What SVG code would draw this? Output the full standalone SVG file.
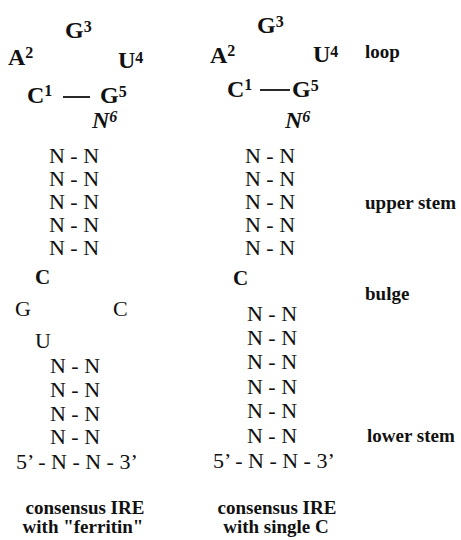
<svg xmlns="http://www.w3.org/2000/svg" width="461" height="540" viewBox="0 0 461 540">
<style>
text{font-family:"Liberation Serif","Times New Roman",serif;fill:#111}
.lb{font-size:24px;font-weight:bold}
.sup{font-size:16px}
.it{font-size:24px;font-style:italic;font-weight:bold}
.nn{font-size:22px;text-anchor:middle}
.nt{font-size:22px}
.bc{font-size:21px;font-weight:bold}
.cap{font-size:19px;font-weight:bold;text-anchor:middle}
.lab{font-size:19px;font-weight:bold}
.bond{stroke:#111;stroke-width:1.8}
</style>
<rect width="461" height="540" fill="#fff"/>
<g id="connectors">
<line class="bond" x1="63" y1="97" x2="90" y2="97"/>
<line class="bond" x1="260" y1="90" x2="290" y2="90"/>
</g>
<g id="ferritin-ire">
<g id="f-loop">
<text class="lb" x="65" y="38">G<tspan class="sup" dy="-6">3</tspan></text>
<text class="lb" x="8" y="65">A<tspan class="sup" dy="-7">2</tspan></text>
<text class="lb" x="118" y="68">U<tspan class="sup" dy="-5">4</tspan></text>
<text class="lb" x="27" y="103">C<tspan class="sup" dy="-7">1</tspan></text>
<text class="lb" x="100" y="103">G<tspan class="sup" dy="-6">5</tspan></text>
<text class="it" x="92" y="128">N<tspan class="sup" dy="-6">6</tspan></text>
</g>
<g id="f-upper-stem">
<text class="nn" x="74" y="163">N - N</text>
<text class="nn" x="74" y="186">N - N</text>
<text class="nn" x="74" y="209">N - N</text>
<text class="nn" x="74" y="232">N - N</text>
<text class="nn" x="74" y="255">N - N</text>
</g>
<g id="f-bulge">
<text class="bc" x="35" y="284">C</text>
<text class="nt" x="15" y="316">G</text>
<text class="nt" x="113" y="316">C</text>
<text class="nt" x="35" y="348">U</text>
</g>
<g id="f-lower-stem">
<text class="nn" x="75" y="373">N - N</text>
<text class="nn" x="75" y="397">N - N</text>
<text class="nn" x="75" y="421">N - N</text>
<text class="nn" x="75" y="444">N - N</text>
<text class="nt" x="16" y="469">5’ - N - N - 3’</text>
</g>
<g id="f-caption">
<text class="cap" x="85" y="514">consensus IRE</text>
<text class="cap" x="83" y="533">with "ferritin"</text>
</g>
</g>
<g id="single-c-ire">
<g id="s-loop">
<text class="lb" x="257" y="33">G<tspan class="sup" dy="-6">3</tspan></text>
<text class="lb" x="210" y="63">A<tspan class="sup" dy="-7">2</tspan></text>
<text class="lb" x="313" y="62">U<tspan class="sup" dy="-5">4</tspan></text>
<text class="lb" x="227" y="97">C<tspan class="sup" dy="-7">1</tspan></text>
<text class="lb" x="292" y="97">G<tspan class="sup" dy="-6">5</tspan></text>
<text class="it" x="285" y="128">N<tspan class="sup" dy="-6">6</tspan></text>
</g>
<g id="s-upper-stem">
<text class="nn" x="270" y="163">N - N</text>
<text class="nn" x="270" y="186">N - N</text>
<text class="nn" x="270" y="209">N - N</text>
<text class="nn" x="270" y="232">N - N</text>
<text class="nn" x="270" y="255">N - N</text>
</g>
<g id="s-bulge">
<text class="bc" x="233" y="285">C</text>
</g>
<g id="s-lower-stem">
<text class="nn" x="272" y="321">N - N</text>
<text class="nn" x="272" y="345">N - N</text>
<text class="nn" x="272" y="369">N - N</text>
<text class="nn" x="272" y="394">N - N</text>
<text class="nn" x="272" y="418">N - N</text>
<text class="nn" x="272" y="443">N - N</text>
<text class="nt" x="213" y="468">5’ - N - N - 3’</text>
</g>
<g id="s-caption">
<text class="cap" x="277" y="514">consensus IRE</text>
<text class="cap" x="276" y="533">with single C</text>
</g>
</g>
<g id="labels">
<text class="lab" x="365" y="58">loop</text>
<text class="lab" x="365" y="209">upper stem</text>
<text class="lab" x="365" y="300">bulge</text>
<text class="lab" x="367" y="442">lower stem</text>
</g>
</svg>
